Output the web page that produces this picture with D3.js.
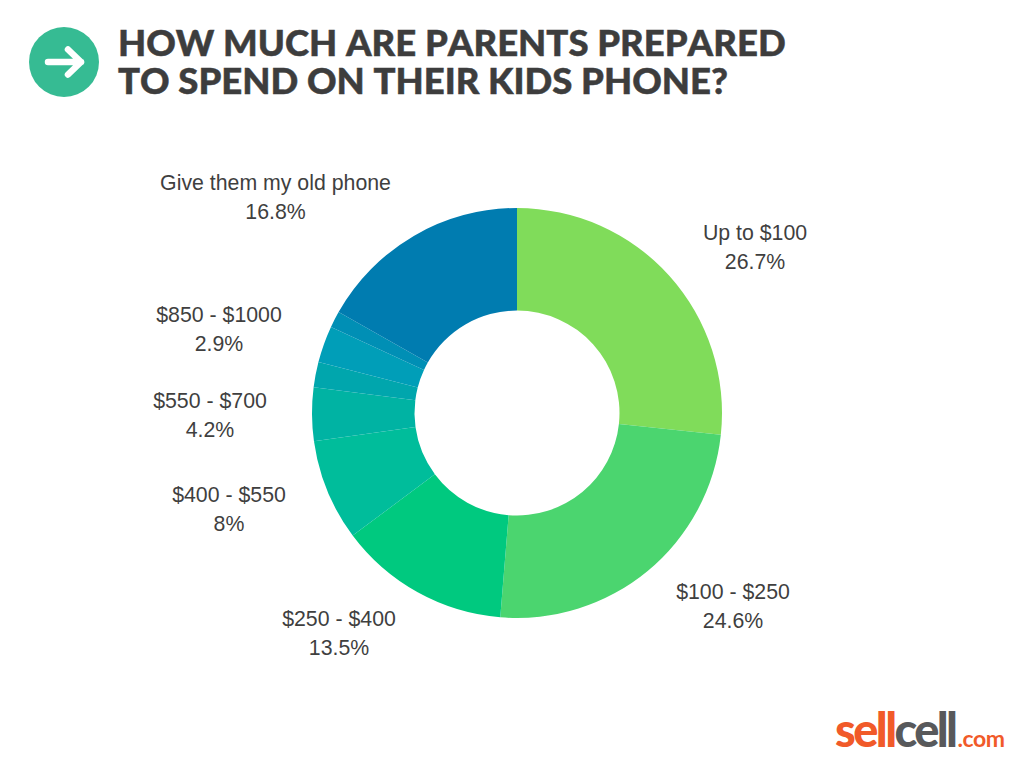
<!DOCTYPE html>
<html><head><meta charset="utf-8">
<script src="https://cdn.jsdelivr.net/npm/d3@7/dist/d3.min.js"></script>
<style>html,body{margin:0;padding:0;background:#fff;overflow:hidden}svg{display:block}</style>
</head><body><svg id="c" width="1024" height="768"></svg>
<script>
const titleLines = ["HOW MUCH ARE PARENTS PREPARED","TO SPEND ON THEIR KIDS PHONE?"];
const categories = ["Up to $100","$100 - $250","$250 - $400","$400 - $550","$550 - $700","$700 - $850","$850 - $1000","$1000+","Give them my old phone"];
const values = [26.7,24.6,13.5,8,4.2,2,2.9,1.3,16.8];
const valueLabels = ["26.7%","24.6%","13.5%","8%","4.2%","","2.9%","","16.8%"];
const colors = ["#80DC5A","#4BD56F","#00C97F","#00BD9B","#00B3A3","#00A6AD","#009EB8","#008FB5","#007CB0"];
const labelX = [755,733,339,229,210,null,219,null,275.5];
const labelY = [232.5,591.5,618.5,494.5,400.5,null,314.5,null,183];

const svg = d3.select("#c");
const cx = 517, cy = 413, outerR = 205, innerR = 102.5;
const pie = d3.pie().sort(null).value(d=>d);
const arc = d3.arc().innerRadius(innerR).outerRadius(outerR);
svg.append("g").attr("transform",`translate(${cx},${cy})`)
  .selectAll("path").data(pie(values)).join("path")
  .attr("d",arc).attr("fill",(d,i)=>colors[i]);

const labels = svg.append("g").attr("font-family","'Liberation Sans', sans-serif").attr("font-size",21.3).attr("fill","#3f3f3f").attr("text-anchor","middle");
categories.forEach((c,i)=>{
  if(labelX[i]===null) return;
  labels.append("text").attr("x",labelX[i]).attr("y",labelY[i]).attr("dy","0.35em").text(c);
  labels.append("text").attr("x",labelX[i]).attr("y",labelY[i]+29).attr("dy","0.35em").text(valueLabels[i]);
});

svg.append("circle").attr("cx",64).attr("cy",62).attr("r",35).attr("fill","#36BB93");
svg.append("path").attr("d","M48 62H81M68 49.5L81 62L68 74.5").attr("fill","none").attr("stroke","#fff").attr("stroke-width",6.5).attr("stroke-linecap","round").attr("stroke-linejoin","round");

const title = svg.append("text").attr("font-family","Lato, sans-serif").attr("font-weight",900).attr("font-size",36.5).attr("fill","#3d3d3d").attr("stroke","#3d3d3d").attr("stroke-width",0.5).style("font-kerning","none");
title.selectAll("tspan").data(titleLines).join("tspan").attr("x",118).attr("y",(d,i)=>56+i*38).text(d=>d);

const logo = svg.append("text").attr("x",835).attr("y",747).attr("font-family","Lato, sans-serif").attr("font-weight",900).attr("font-size",47).attr("letter-spacing",-2.6);
logo.append("tspan").attr("fill","#F15A29").text("sell");
logo.append("tspan").attr("fill","#58595B").text("cell");
logo.append("tspan").attr("fill","#F15A29").attr("font-size",23).attr("font-weight",700).attr("letter-spacing",-0.4).attr("dx",2).text(".com");
</script></body></html>
